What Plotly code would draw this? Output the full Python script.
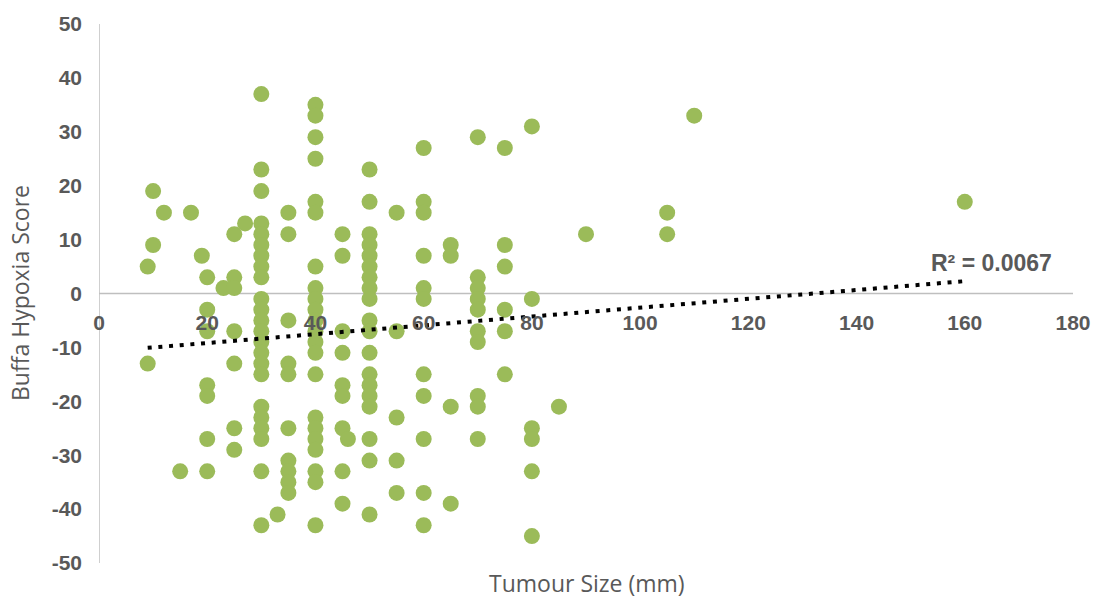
import numpy as np
import plotly.graph_objects as go

# Tumour size (mm) and Buffa hypoxia score
tumour_size = (
    [9, 9]
    + [10, 10]
    + [12]
    + [15]
    + [17]
    + [19]
    + [20] * 7
    + [23]
    + [25] * 7
    + [27]
    + [30] * 23
    + [33]
    + [35] * 10
    + [40] * 22
    + [45] * 9
    + [46]
    + [50] * 19
    + [55] * 5
    + [60] * 11
    + [65] * 4
    + [70] * 10
    + [75] * 6
    + [80] * 6
    + [85]
    + [90]
    + [105, 105]
    + [110]
    + [160]
)
hypoxia_score = (
    [5, -13]
    + [19, 9]
    + [15]
    + [-33]
    + [15]
    + [7]
    + [3, -3, -7, -17, -19, -27, -33]
    + [1]
    + [11, 3, 1, -7, -13, -25, -29]
    + [13]
    + [37, 23, 19, 13, 11, 9, 7, 5, 3, -1, -3, -5, -7, -9, -11, -13, -15, -21, -23, -25, -27, -33, -43]
    + [-41]
    + [15, 11, -5, -13, -15, -25, -31, -33, -35, -37]
    + [35, 33, 29, 25, 17, 15, 5, 1, -1, -3, -5, -7, -9, -11, -15, -23, -25, -27, -29, -33, -35, -43]
    + [11, 7, -7, -11, -17, -19, -25, -33, -39]
    + [-27]
    + [23, 17, 11, 9, 7, 5, 3, 1, -1, -5, -7, -11, -15, -17, -19, -21, -27, -31, -41]
    + [15, -7, -23, -31, -37]
    + [27, 17, 15, 7, 1, -1, -15, -19, -27, -37, -43]
    + [9, 7, -21, -39]
    + [29, 3, 1, -1, -3, -7, -9, -19, -21, -27]
    + [27, 9, 5, -3, -7, -15]
    + [31, -1, -25, -27, -33, -45]
    + [-21]
    + [11]
    + [15, 11]
    + [33]
    + [17]
)
x_ticks = [0, 20, 40, 60, 80, 100, 120, 140, 160, 180]
y_ticks = [-50, -40, -30, -20, -10, 0, 10, 20, 30, 40, 50]
x_range = [0, 180]
y_range = [-50, 50]
r2_label = "R² = 0.0067"

xs = np.array(tumour_size, dtype=float)
ys = np.array(hypoxia_score, dtype=float)
slope, intercept = np.polyfit(xs, ys, 1)
trend_x = np.array([xs.min(), xs.max()])
trend_y = slope * trend_x + intercept

GREY = "#595959"
AXIS = "#BFBFBF"

fig = go.Figure()
fig.add_trace(go.Scatter(
    x=tumour_size, y=hypoxia_score, mode="markers",
    marker=dict(color="#9BBB59", size=16, line=dict(width=0)),
    showlegend=False, hoverinfo="skip",
))
fig.add_trace(go.Scatter(
    x=trend_x, y=trend_y, mode="lines",
    line=dict(color="black", width=4, dash="4px,6.7px"),
    showlegend=False, hoverinfo="skip",
))

# axis lines drawn beneath the markers
fig.add_shape(type="line", xref="x", yref="y", x0=x_range[0], x1=x_range[1], y0=0, y1=0,
              line=dict(color=AXIS, width=1.5), layer="below")
fig.add_shape(type="line", xref="x", yref="y", x0=0, x1=0, y0=y_range[0], y1=y_range[1],
              line=dict(color=AXIS, width=1.5), layer="below")

fig.update_layout(
    width=1105, height=599,
    margin=dict(l=99, r=32, t=22, b=36),
    paper_bgcolor="white", plot_bgcolor="white",
    font=dict(family="Liberation Sans, Arial, sans-serif", color=GREY),
    xaxis=dict(
        range=x_range, tickvals=x_ticks, ticktext=[str(v) for v in x_ticks],
        showgrid=False, zeroline=False, showline=False,
        anchor="free", position=0.5, ticks="", ticklabelstandoff=14,
        tickfont=dict(size=21, color=GREY, weight="bold"),
        layer="above traces",
    ),
    yaxis=dict(
        range=y_range, tickvals=y_ticks, ticktext=[str(v) for v in y_ticks],
        showgrid=False, zeroline=False, showline=False,
        ticks="", ticklabelstandoff=16,
        tickfont=dict(size=21, color=GREY, weight="bold"),
        layer="above traces",
    ),
    annotations=[
        dict(text="Tumour Size (mm)", xref="paper", yref="paper",
             x=(587 - 99) / 974, y=(563 - 583) / 541, xanchor="center", yanchor="middle",
             showarrow=False, font=dict(family="Open Sans", size=23, color=GREY)),
        dict(text="Buffa Hypoxia Score", xref="paper", yref="paper",
             x=(20 - 99) / 974, y=(563 - 292) / 541, xanchor="center", yanchor="middle",
             textangle=-90, showarrow=False,
             font=dict(family="Open Sans", size=23, color=GREY)),
        dict(text=r2_label, xref="x", yref="y", x=165, y=5.6,
             xanchor="center", yanchor="middle", showarrow=False,
             font=dict(family="Liberation Sans", size=23, color=GREY, weight="bold")),
    ],
)

fig.write_html("out.html")
